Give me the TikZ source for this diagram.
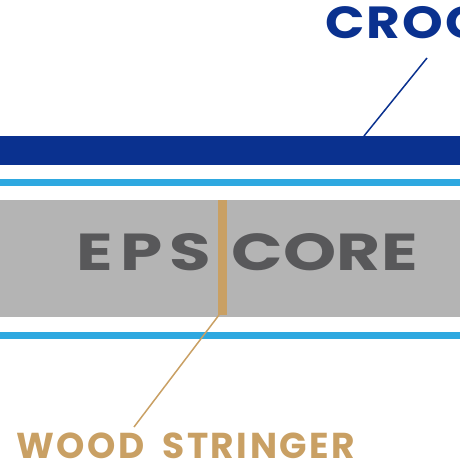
\documentclass[tikz,border=0pt]{standalone}
\usepackage{fontspec}
\setmainfont{Poppins}
\definecolor{deckblue}{HTML}{0A318F}
\definecolor{skyline}{HTML}{2EA8E0}
\definecolor{coregrey}{HTML}{B4B4B4}
\definecolor{coretext}{HTML}{58585A}
\definecolor{wood}{HTML}{C9A064}
\newfontfamily\epsfont[FakeStretch=1.3,LetterSpace=14]{Poppins Bold}
\newfontfamily\corefont[FakeStretch=1.3,LetterSpace=1]{Poppins Bold}
\newfontfamily\crocfont[FakeStretch=1.15,LetterSpace=5]{Poppins Bold}
\newfontfamily\woodfont[LetterSpace=7]{Poppins Bold}
\begin{document}
\begin{tikzpicture}[x=1pt,y=-1pt,
  lbl/.style={inner sep=0pt,anchor=base west},
  leader/.style={line width=1.5pt}]
\useasboundingbox (0,0) rectangle (460,460);
\clip (0,0) rectangle (460,460);
% layers
\fill[deckblue] (0,136) rectangle (460,165);
\fill[skyline] (0,179) rectangle (460,186);
\fill[coregrey] (0,200) rectangle (460,317);
\fill[skyline] (0,332) rectangle (460,339);
\fill[wood] (218,200) rectangle (227,315);
% texts
\node[lbl,text=coretext,font=\epsfont\fontsize{52}{52}\selectfont] (eps) at (76,270) {EPS};
\node[lbl,text=coretext,font=\corefont\fontsize{52}{52}\selectfont] (core) at (231,270) {CORE};
\node[lbl,text=deckblue,font=\crocfont\fontsize{45}{45}\selectfont] (croc) at (325,38) {CROC};
\node[lbl,text=wood,font=\woodfont\fontsize{36}{36}\selectfont] (wood) at (16,458) {WOOD\hspace{8pt} STRINGER};
% leaders
\coordinate (bluetop) at (427,58);
\coordinate (bluebot) at (364,136);
\coordinate (woodtop) at (219,315);
\coordinate (woodbot) at (134,427);
\draw[leader,deckblue] (bluetop) -- (bluebot);
\draw[leader,wood] (woodtop) -- (woodbot);
\end{tikzpicture}
\end{document}
